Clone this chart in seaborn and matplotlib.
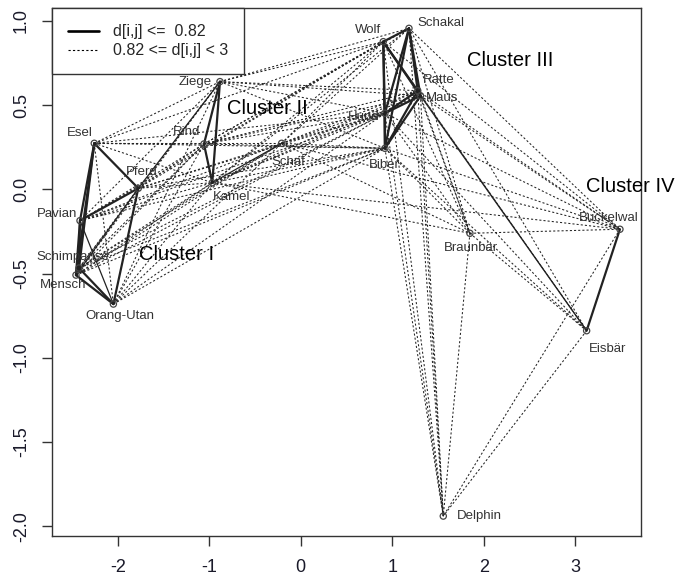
import numpy as np
import pandas as pd
import seaborn as sns
import matplotlib
matplotlib.use("Agg")
import matplotlib.pyplot as plt
from matplotlib.lines import Line2D

# MDS configuration of the 20 animals
animals = ["Esel", "Pferd", "Pavian", "Schimpanse", "Mensch", "Orang-Utan",
           "Ziege", "Rind", "Kamel", "Schaf",
           "Wolf", "Schakal", "Ratte", "Maus", "Hund", "Biber",
           "Braunbär", "Buckelwal", "Eisbär", "Delphin"]
dim1 = [-2.256, -1.775, -2.412, -2.423, -2.456, -2.047,
        -0.882, -1.057, -0.966, -0.208,
        0.903, 1.184, 1.280, 1.310, 0.921, 0.921,
        1.850, 3.490, 3.126, 1.559]
dim2 = [0.273, 0.006, -0.186, -0.467, -0.509, -0.681,
        0.639, 0.269, 0.039, 0.273,
        0.876, 0.955, 0.585, 0.555, 0.451, 0.243,
        -0.261, -0.237, -0.839, -1.939]

# pairs with d[i,j] <= 0.82
strong_pairs = [("Esel", "Pferd"), ("Esel", "Pavian"), ("Esel", "Schimpanse"), ("Esel", "Mensch"),
                ("Pferd", "Pavian"), ("Pferd", "Orang-Utan"), ("Pavian", "Schimpanse"),
                ("Pavian", "Mensch"), ("Schimpanse", "Mensch"), ("Schimpanse", "Orang-Utan"),
                ("Mensch", "Orang-Utan"),
                ("Ziege", "Rind"), ("Ziege", "Kamel"), ("Rind", "Kamel"),
                ("Wolf", "Schakal"), ("Wolf", "Biber"), ("Wolf", "Hund"), ("Wolf", "Maus"),
                ("Wolf", "Ratte"), ("Schakal", "Ratte"), ("Schakal", "Maus"), ("Schakal", "Hund"),
                ("Schakal", "Biber"), ("Ratte", "Maus"), ("Ratte", "Hund"), ("Ratte", "Biber"),
                ("Maus", "Hund"), ("Maus", "Biber"), ("Hund", "Biber"),
                ("Buckelwal", "Eisbär")]
thin_pairs = [("Pferd", "Mensch"), ("Pavian", "Orang-Utan"), ("Ziege", "Pferd"),
              ("Kamel", "Schaf"), ("Maus", "Eisbär")]

# pairs with 0.82 <= d[i,j] < 3
clus1 = ["Esel", "Pferd", "Pavian", "Schimpanse", "Mensch", "Orang-Utan"]
clus2 = ["Ziege", "Rind", "Kamel", "Schaf"]
clus3 = ["Wolf", "Schakal", "Ratte", "Maus", "Hund", "Biber"]
outer = ["Braunbär", "Buckelwal", "Eisbär", "Delphin"]
dotted_pairs = [("Esel", "Orang-Utan"), ("Pferd", "Schimpanse"),
                ("Esel", "Hund"), ("Esel", "Biber"), ("Esel", "Wolf"),
                ("Pferd", "Hund"), ("Pferd", "Biber"), ("Pferd", "Wolf"),
                ("Pavian", "Hund"), ("Pavian", "Biber"), ("Pavian", "Wolf"),
                ("Schimpanse", "Hund"), ("Schimpanse", "Biber"),
                ("Mensch", "Hund"), ("Mensch", "Biber"),
                ("Orang-Utan", "Hund"), ("Orang-Utan", "Biber"),
                ("Kamel", "Braunbär"), ("Kamel", "Buckelwal"),
                ("Schaf", "Braunbär"), ("Schaf", "Buckelwal"),
                ("Braunbär", "Buckelwal"), ("Braunbär", "Eisbär"), ("Braunbär", "Delphin"),
                ("Buckelwal", "Delphin"), ("Eisbär", "Delphin")]
dotted_pairs += [(a, b) for a in clus1 for b in clus2 if (a, b) != ("Pferd", "Ziege")]
dotted_pairs += [(a, b) for a in clus2 for b in clus3]
dotted_pairs += [(a, b) for a in clus3 for b in outer if (a, b) != ("Maus", "Eisbär")]

# label placement (pixel offsets from the point)
label_dx = [-14, 3, -23, -6, -13, 6, -25, -17, 19, 7, -15, 32, 21, 22, -21, -1, 1, -11, 21, 36]
label_dy = [10, 16, 7, 11, -10, -12, 0, 12, -14, -19, 12, 5, 11, -2, -4, -17, -15, 11, -18, 0]

cluster_names = ["Cluster I", "Cluster II", "Cluster III", "Cluster IV"]
cluster_x = [-1.36, -0.36, 2.29, 3.60]
cluster_y = [-0.384, 0.482, 0.767, 0.014]

pts = pd.DataFrame({"animal": animals, "x": dim1, "y": dim2})
pos = pts.set_index("animal")

rows = []
for kind, pairs in [("dotted", dotted_pairs), ("thin", thin_pairs), ("strong", strong_pairs)]:
    for k, (a, b) in enumerate(pairs):
        eid = kind + str(k)
        rows.append({"edge": eid, "kind": kind, "x": pos.loc[a, "x"], "y": pos.loc[a, "y"]})
        rows.append({"edge": eid, "kind": kind, "x": pos.loc[b, "x"], "y": pos.loc[b, "y"]})
edges = pd.DataFrame(rows)

sns.set_style("ticks")
plt.rcParams["font.family"] = ["Liberation Sans", "DejaVu Sans"]
plt.rcParams["axes.unicode_minus"] = False

fig = plt.figure(figsize=(6.79, 5.80), dpi=100)
ax = fig.add_axes([0.077, 0.0753, 0.944 - 0.077, 0.9857 - 0.0753])

sns.lineplot(data=edges, x="x", y="y", units="edge", estimator=None, sort=False,
             style="kind", size="kind",
             dashes={"dotted": (2, 2), "thin": "", "strong": ""},
             sizes={"dotted": 0.75, "thin": 0.9, "strong": 1.6},
             color="#222222", legend=False, ax=ax)
sns.scatterplot(data=pts, x="x", y="y", s=20, facecolor="none",
                edgecolor="#444444", linewidth=0.9, zorder=5, legend=False, ax=ax)

for name, px, py, dx, dy in zip(animals, dim1, dim2, label_dx, label_dy):
    ax.annotate(name, (px, py), xytext=(dx, dy), textcoords="offset pixels",
                ha="center", va="center", fontsize=9.5, color="#333333")
for name, cx, cy in zip(cluster_names, cluster_x, cluster_y):
    ax.text(cx, cy, name, ha="center", va="center", fontsize=14.5, color="black")

ax.set_xlim(-2.715, 3.72)
ax.set_ylim(-2.059, 1.074)
ax.set_xticks([-2, -1, 0, 1, 2, 3])
ax.set_yticks([-2.0, -1.5, -1.0, -0.5, 0.0, 0.5, 1.0])
ax.set_yticklabels(["-2.0", "-1.5", "-1.0", "-0.5", "0.0", "0.5", "1.0"],
                   rotation=90, va="center")
ax.tick_params(axis="both", labelsize=13, length=7, width=1, color="#333333",
               labelcolor="#1a1a2a", pad=9)
for s in ax.spines.values():
    s.set_color("#333333")
    s.set_linewidth(1.0)
ax.set_xlabel("")
ax.set_ylabel("")

handles = [Line2D([], [], color="black", lw=1.9),
           Line2D([], [], color="black", lw=0.8, dashes=(2, 2))]
ax.legend(handles, ["d[i,j] <=  0.82", "0.82 <= d[i,j] < 3"], loc="upper left",
          borderaxespad=0, fancybox=False, edgecolor="#333333", framealpha=1,
          fontsize=11.5, handlelength=1.9, handletextpad=0.9, borderpad=1.0,
          labelspacing=0.25)

fig.savefig("out.png", dpi=100)
